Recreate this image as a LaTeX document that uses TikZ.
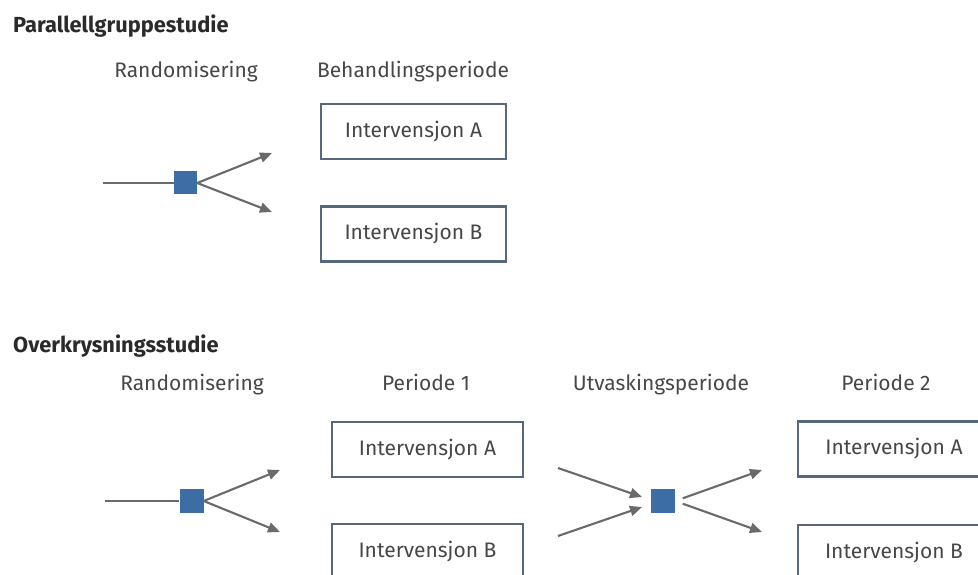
\documentclass[tikz,border=0pt]{standalone}
\usepackage{fontspec}
\setmainfont{Fira Sans}
\usetikzlibrary{arrows.meta}
\definecolor{txtgray}{HTML}{474747}
\definecolor{ttlgray}{HTML}{2A2A2A}
\definecolor{boxedge}{HTML}{56687A}
\definecolor{sqblue}{HTML}{3C6EA5}
\definecolor{arrgray}{HTML}{6A6A6A}
\begin{document}
\begin{tikzpicture}[x=1pt,y=-1pt,
  title/.style={anchor=base west, font=\fontsize{21.8}{24}\selectfont\bfseries, text=ttlgray, inner sep=0pt},
  lbl/.style={anchor=base, font=\fontsize{21}{24}\selectfont, text=txtgray, inner sep=0pt},
  ibox/.style={draw=boxedge, line width=2.2pt, minimum height=55pt, inner sep=0pt, font=\fontsize{21}{24}\selectfont, text=txtgray},
  rsq/.style={fill=sqblue, minimum size=23pt, inner sep=0pt},
  arr/.style={draw=arrgray, line width=2.1pt, -{Triangle[length=12pt,width=10pt]}},
  ln/.style={draw=arrgray, line width=2.1pt}
]
\clip (0,0) rectangle (978,575);
\fill[white] (0,0) rectangle (978,575);

% ---- Parallellgruppestudie ----
\node[title] (t1) at (13,33) {Parallellgruppestudie};
\node[lbl] (r1) at (186,78) {Randomisering};
\node[lbl] (b1) at (413,78) {Behandlingsperiode};
\node[ibox, minimum width=185pt] (p1a) at (413.5,131.5) {Intervensjon A};
\node[ibox, minimum width=185pt] (p1b) at (413.5,234) {Intervensjon B};
\node[rsq] (s1) at (185.5,183) {};
\coordinate (s1in) at (103,183);
\coordinate (s1up) at (272,153);
\coordinate (s1dn) at (272,212);
\draw[ln] (s1in) -- (s1.west);
\draw[arr] (s1.east) -- (s1up);
\draw[arr] (s1.east) -- (s1dn);

% ---- Overkrysningsstudie ----
\node[title] (t2) at (13,352) {Overkrysningsstudie};
\node[lbl] (r2) at (192,390) {Randomisering};
\node[lbl] (pe1) at (426,390) {Periode 1};
\node[lbl] (ut) at (661,390) {Utvaskingsperiode};
\node[lbl] (pe2) at (886,390) {Periode 2};

\node[ibox, minimum width=191pt] (c1a) at (427.5,449.5) {Intervensjon A};
\node[ibox, minimum width=191pt] (c1b) at (427.5,551.5) {Intervensjon B};
\node[ibox, minimum width=192pt] (c2a) at (894,449) {Intervensjon A};
\node[ibox, minimum width=192pt] (c2b) at (894,552.5) {Intervensjon B};

\node[rsq, minimum size=24pt] (s2) at (191.5,501) {};
\coordinate (s2in) at (105,501);
\coordinate (s2up) at (280,470);
\coordinate (s2dn) at (280,532);
\draw[ln] (s2in) -- (s2.west);
\draw[arr] (s2.east) -- (s2up);
\draw[arr] (s2.east) -- (s2dn);

\node[rsq, minimum size=24pt] (s3) at (663,501) {};
\coordinate (w1) at (558,468);
\coordinate (w2) at (558,536);
\coordinate (w1t) at (642,497);
\coordinate (w2t) at (642,507);
\coordinate (s3up) at (762,470);
\coordinate (s3dn) at (762,532);
\draw[arr] (w1) -- (w1t);
\draw[arr] (w2) -- (w2t);
\draw[arr, shorten <=8pt] (s3.east) -- (s3up);
\draw[arr, shorten <=8pt] (s3.east) -- (s3dn);
\end{tikzpicture}
\end{document}
